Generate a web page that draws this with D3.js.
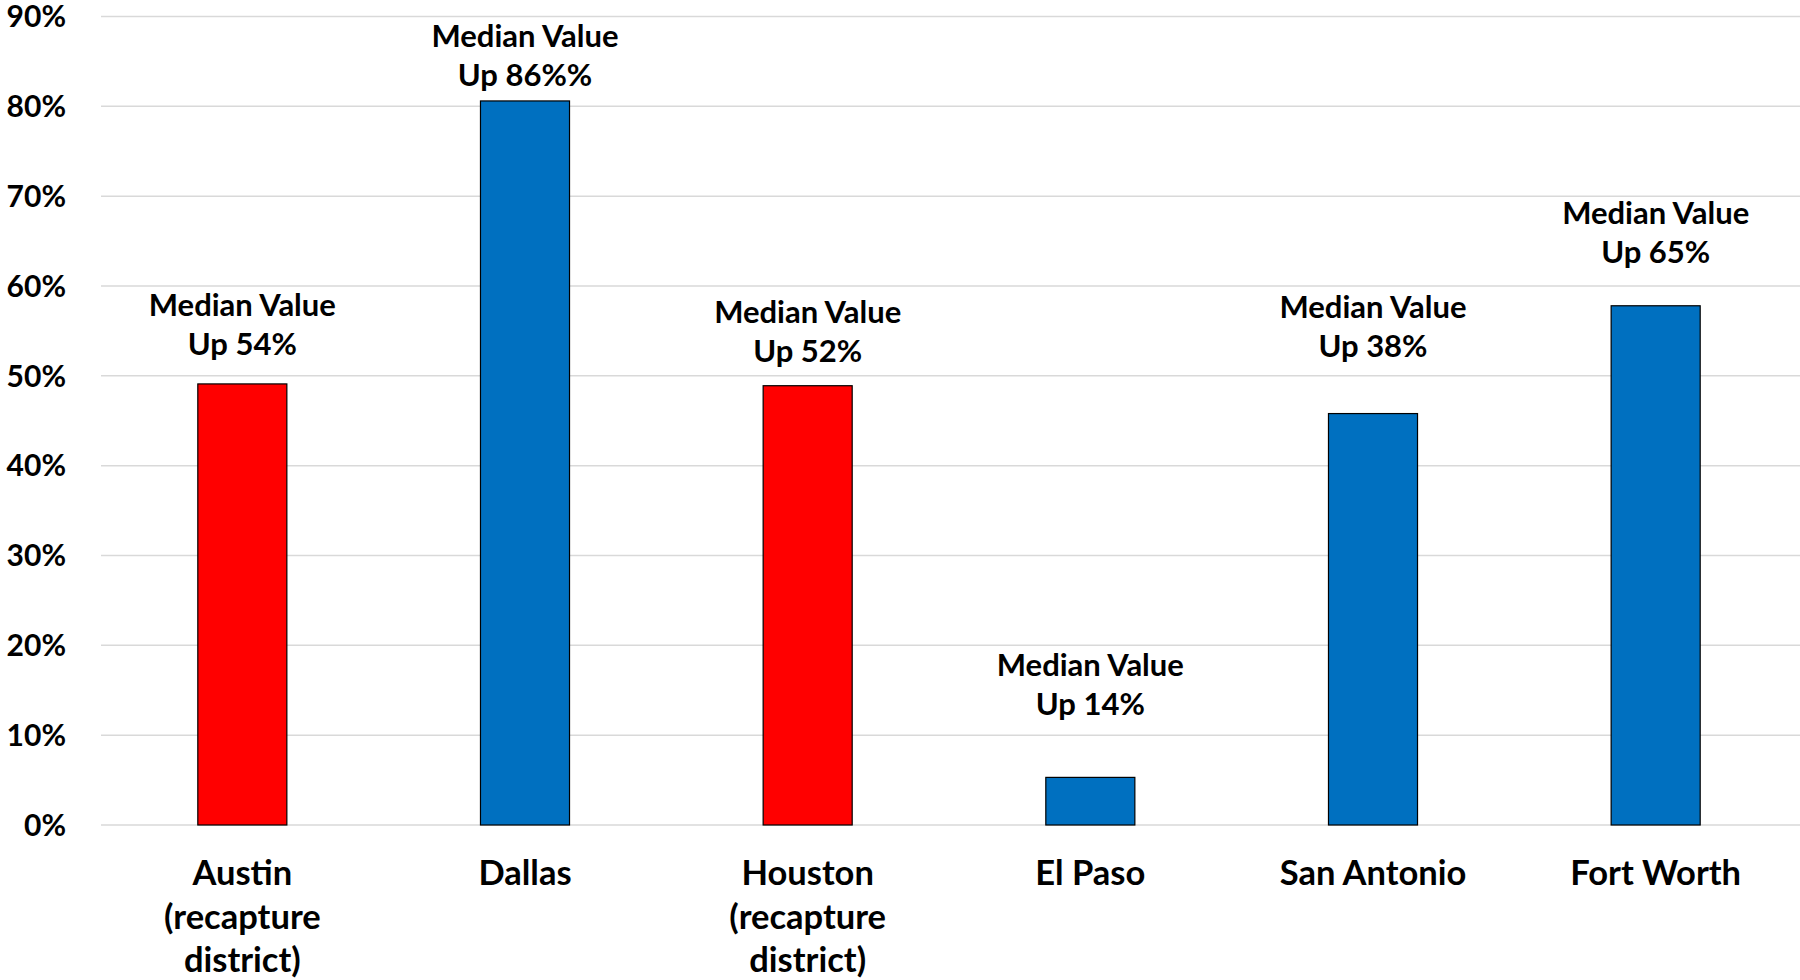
<!DOCTYPE html>
<html lang="en">
  <head>
    <meta charset="utf-8">
    <script type="text/javascript" src="https://cdnjs.cloudflare.com/ajax/libs/d3/7.8.5/d3.min.js"></script>
    <style>
    body { margin: 0; background: #fff; }
    text { font-family: Lato, "Open Sans", sans-serif; font-weight: bold; fill: #000; }
    .grid line { stroke: #d9d9d9; stroke-width: 1.5; }
    .bar { stroke: #000; stroke-width: 1.2; }
    </style>
  </head>
<body>
<script type="text/javascript">

///////// data

var cities = [
  ["Austin", "(recapture", "district)"],
  ["Dallas"],
  ["Houston", "(recapture", "district)"],
  ["El Paso"],
  ["San Antonio"],
  ["Fort Worth"]
];
var values = [49.1, 80.6, 48.9, 5.3, 45.8, 57.8];
var recapture = [true, false, true, false, false, false];
var medianUp = ["54%", "86%%", "52%", "14%", "38%", "65%"];
// where the note's second line sits, in % units
var noteAt = [52.3, 82.3, 51.5, 12.2, 52.1, 62.6];
var yTicks = [0, 10, 20, 30, 40, 50, 60, 70, 80, 90];

///////// chart

var width = 1800, height = 980;
var plotLeft = 101, plotRight = 1797, plotTop = 16.5, plotBottom = 825;

var svg = d3.select("body").append("svg")
    .attr("width", width)
    .attr("height", height);

var x = d3.scaleBand()
    .domain(d3.range(cities.length))
    .range([plotLeft, plotRight])
    .paddingInner(0.685)
    .paddingOuter(0.3425);

var y = d3.scaleLinear().domain([0, 90]).range([plotBottom, plotTop]);

function mid(i) { return x(i) + x.bandwidth() / 2; }

// gridlines
svg.append("g")
    .attr("class", "grid")
    .selectAll("line")
    .data(yTicks)
    .enter().append("line")
    .attr("x1", plotLeft)
    .attr("x2", width)
    .attr("y1", function(d) { return y(d); })
    .attr("y2", function(d) { return y(d); });

// y axis labels
svg.append("g")
    .selectAll("text")
    .data(yTicks)
    .enter().append("text")
    .attr("x", 66)
    .attr("y", function(d) { return y(d); })
    .attr("dy", "0.36em")
    .style("text-anchor", "end")
    .style("font-size", "30px")
    .text(function(d) { return d + "%"; });

// bars
svg.append("g")
    .selectAll("rect")
    .data(values)
    .enter().append("rect")
    .attr("class", "bar")
    .attr("x", function(d, i) { return x(i); })
    .attr("y", function(d) { return y(d); })
    .attr("width", x.bandwidth())
    .attr("height", function(d) { return y(0) - y(d); })
    .attr("fill", function(d, i) { return recapture[i] ? "#ff0000" : "#0070c0"; });

// notes above bars
var notes = svg.append("g")
    .selectAll("text")
    .data(medianUp)
    .enter().append("text")
    .attr("y", function(d, i) { return y(noteAt[i]); })
    .style("text-anchor", "middle")
    .style("font-size", "31px");
notes.append("tspan")
    .attr("x", function(d, i) { return mid(i); })
    .attr("dy", -39)
    .text("Median Value");
notes.append("tspan")
    .attr("x", function(d, i) { return mid(i); })
    .attr("dy", 39)
    .text(function(d) { return "Up " + d; });

// category labels
var cats = svg.append("g")
    .selectAll("text")
    .data(cities)
    .enter().append("text")
    .attr("y", 885)
    .style("text-anchor", "middle")
    .style("font-size", "34.5px");
cats.selectAll("tspan")
    .data(function(d, i) { return d.map(function(s) { return {s: s, i: i}; }); })
    .enter().append("tspan")
    .attr("x", function(d) { return mid(d.i); })
    .attr("dy", function(d, j) { return j === 0 ? 0 : 43.5; })
    .text(function(d) { return d.s; });

</script>
</body>
</html>
